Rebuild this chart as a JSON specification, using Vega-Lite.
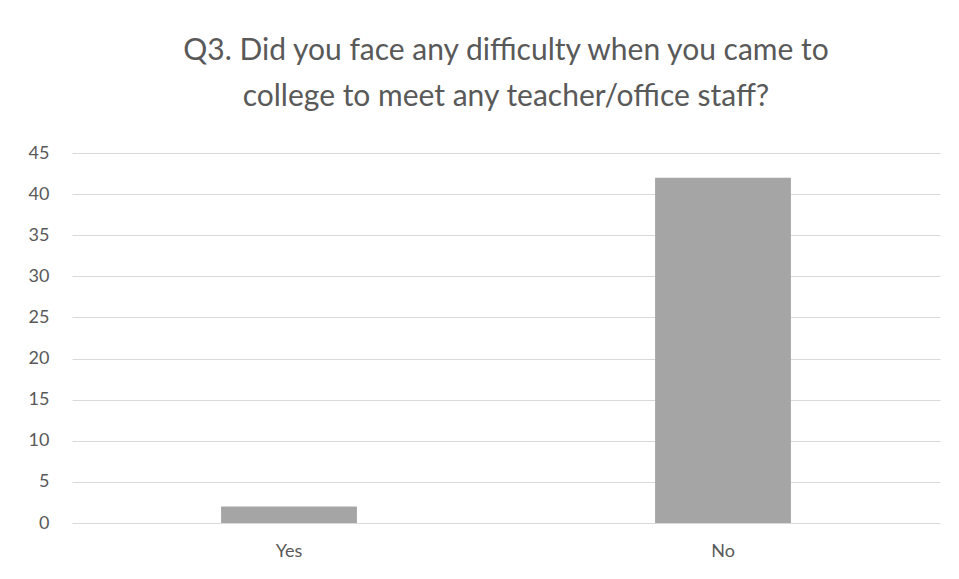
{
  "$schema": "https://vega.github.io/schema/vega-lite/v6.json",
  "width": 868,
  "height": 370,
  "autosize": {"type": "none"},
  "padding": {"left": 72, "top": 153, "right": 19, "bottom": 56},
  "background": "white",
  "title": {
    "text": ["Q3. Did you face any difficulty when you came to", "college to meet any teacher/office staff?"],
    "font": "Lato",
    "fontSize": 30,
    "fontWeight": "normal",
    "color": "#595959",
    "anchor": "middle",
    "lineHeight": 46,
    "offset": 32
  },
  "data": {
    "values": [
      {"answer": "Yes", "count": 2},
      {"answer": "No", "count": 42}
    ]
  },
  "mark": {"type": "bar", "color": "#a5a5a5"},
  "encoding": {
    "x": {
      "field": "answer",
      "type": "nominal",
      "sort": ["Yes", "No"],
      "title": null,
      "scale": {"paddingInner": 0.687, "paddingOuter": 0.3435},
      "axis": {
        "domain": false,
        "ticks": false,
        "labelAngle": 0,
        "labelFont": "Lato",
        "labelFontSize": 18,
        "labelColor": "#595959",
        "labelPadding": 19
      }
    },
    "y": {
      "field": "count",
      "type": "quantitative",
      "title": null,
      "scale": {"domain": [0, 45]},
      "axis": {
        "values": [0, 5, 10, 15, 20, 25, 30, 35, 40, 45],
        "domain": false,
        "ticks": false,
        "labelFont": "Lato",
        "labelFontSize": 18,
        "labelColor": "#595959",
        "labelPadding": 23,
        "gridColor": "#d9d9d9",
        "gridWidth": 1
      }
    }
  },
  "config": {
    "view": {"stroke": null}
  }
}
